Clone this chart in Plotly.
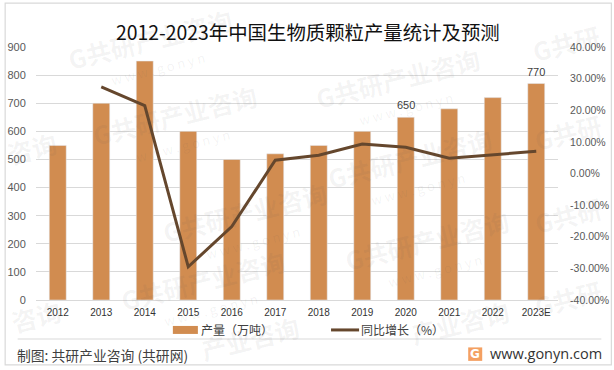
import plotly.graph_objects as go

years = ["2012","2013","2014","2015","2016","2017","2018","2019","2020","2021","2022","2023E"]
output = [550,700,850,600,500,520,550,600,650,680,720,770]
growth = [None,27.4,21.5,-29.5,-16.8,4.2,5.8,9.3,8.3,4.8,6.0,7.0]
bar_labels = ["","","","","","","","","650","","","770"]
left_ticks = [0,100,200,300,400,500,600,700,800,900]
right_ticks = [-40,-30,-20,-10,0,10,20,30,40]
title = "2012-2023年中国生物质颗粒产量统计及预测"
source = "制图: 共研产业咨询 (共研网)"
site = "www.gonyn.com"
legend_bar = "产量（万吨）"
legend_line = "同比增长（%）"
# watermark text, centre x, centre y (pixels)
wm_items = [("G共研产业咨询",150,38),("G共研产业咨询",175,115),("咨询",32,148),("G共研产业咨询",203,280),
            ("G共研产业咨询",245,212),("G共研产业咨询",398,78),("G共研",566,42),("G共研",568,132),
            ("G共研产业咨询",427,240),("G共研",568,215),("G共研",568,298),("咨询",36,316),
            ("产业咨询",250,338),("产业咨询",460,322),("G共研产业咨询",410,158)]
wm_sub = "w w w . g o n y n"

W, H = 614, 370
L, R, T, B = 36.3, 557.7, 46.5, 300
CJK = "Noto Sans CJK SC, Noto Sans, sans-serif"
NUM = "Liberation Sans, Arial, sans-serif"
CLEAR = "rgba(0,0,0,0)"
px = lambda x: (x-L)/(R-L)
py = lambda y: (B-y)/(B-T)

def note(x, y, text, size, color, family=CJK, anchor="center", angle=0):
    return dict(x=px(x), y=py(y), xref="paper", yref="paper", text=text, showarrow=False, xanchor=anchor,
                yanchor="middle", textangle=angle, font=dict(size=size, color=color, family=family))

fig = go.Figure()
fig.add_bar(x=years, y=output, marker_color="#D18C50", width=0.39, yaxis="y", showlegend=False)
fig.add_scatter(x=years, y=growth, mode="lines", line=dict(color="#65472D", width=3), yaxis="y2", showlegend=False)

anns = []
for text, cx, cy in wm_items:
    anns.append(note(cx, cy, f"<b>{text}</b>", 25, "rgba(90,90,90,0.065)", angle=-14))
    if len(text) > 5:
        anns.append(note(cx+8, cy+30, wm_sub, 13, "rgba(90,90,90,0.07)", angle=-14))
for i, (val, lab) in enumerate(zip(output, bar_labels)):
    if lab:
        anns.append(dict(x=i, y=val, xref="x", yref="y", text=lab, showarrow=False, yanchor="bottom", yshift=4,
                         font=dict(size=11, color="#404040", family=NUM)))
anns += [
    note(307.5, 31, title, 19.4, "#111111"),
    note(15, 355, source, 13.8, "#404040", anchor="left"),
    note(487.5, 354, site, 14.5, "#333333", family="Open Sans, sans-serif", anchor="left"),
    note(475, 354, "<b>G</b>", 12, "white", family="DejaVu Sans"),
    note(199, 330, legend_bar, 12, "#404040", anchor="left"),
    note(359, 330, legend_line, 12, "#404040", anchor="left"),
]
shapes = [
    dict(type="rect", xref="paper", yref="paper", x0=px(5.5), x1=px(611), y0=py(2.5), y1=py(365),
         line=dict(color="#D9D9D9", width=1.2), fillcolor="rgba(0,0,0,0)", layer="below"),
    dict(type="line", xref="paper", yref="paper", x0=px(18), x1=px(601), y0=py(339), y1=py(339),
         line=dict(color="#E6E6E6", width=1.5)),
    dict(type="rect", xref="paper", yref="paper", x0=px(468), x1=px(482), y0=py(347.5), y1=py(361),
         line=dict(width=0), fillcolor="#F4A062"),
    dict(type="rect", xref="paper", yref="paper", x0=px(173), x1=px(198), y0=py(326), y1=py(334),
         line=dict(width=0), fillcolor="#D18C50"),
    dict(type="line", xref="paper", yref="paper", x0=px(331), x1=px(359), y0=py(330), y1=py(330),
         line=dict(color="#65472D", width=3)),
]

fig.update_layout(
    width=W, height=H, autosize=False, margin=dict(l=L, r=W-R, t=T, b=H-B, pad=0),
    paper_bgcolor="white", plot_bgcolor="white", font=dict(family=NUM),
    xaxis=dict(type="category", range=[-0.5, len(years)-0.5], tickfont=dict(size=10, color="#333333", family=NUM),
               ticks="outside", ticklen=3, tickcolor=CLEAR, showgrid=False, showline=True, linecolor="#D9D9D9", linewidth=1,
               automargin=False),
    yaxis=dict(range=[0,900], tickvals=left_ticks, tickfont=dict(size=11, color="#595959", family=NUM),
               gridcolor="#D9D9D9", gridwidth=1, zeroline=False, ticks="outside", ticklen=7, tickcolor=CLEAR, automargin=False),
    yaxis2=dict(range=[-40,40], tickvals=right_ticks, ticktext=[f"{v}.00%" for v in right_ticks],
                overlaying="y", side="right", showgrid=False, zeroline=False,
                tickfont=dict(size=10.5, color="#595959", family=NUM), ticks="outside", ticklen=9, tickcolor=CLEAR, automargin=False),
    annotations=anns, shapes=shapes,
)
fig.write_html("out.html", config=dict(displayModeBar=False),
               post_script="document.body.style.margin='0';document.documentElement.style.overflow='hidden';")
